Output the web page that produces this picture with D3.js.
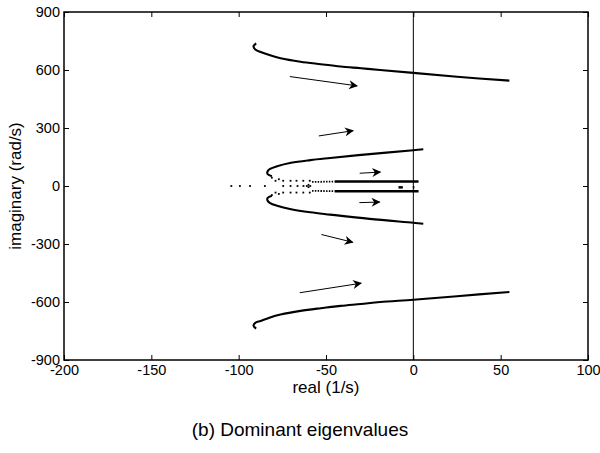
<!DOCTYPE html>
<html>
<head>
<meta charset="utf-8">
<script src="https://cdn.jsdelivr.net/npm/d3@7"></script>
<style>
body { margin: 0; background: #fff; }
text { font-family: "Liberation Sans", Arial, sans-serif; fill: #000; }
</style>
</head>
<body>
<svg width="600" height="453"></svg>
<script>
// ticks
const xTicks = [-200, -150, -100, -50, 0, 50, 100];
const yTicks = [-900, -600, -300, 0, 300, 600, 900];

// eigenvalue branches [real, imaginary]
const upperOuter = [[-90, 738], [-91.5, 722], [-90.5, 706], [-87.4, 693], [-82, 676], [-76, 661], [-64.6, 643], [-53, 630], [-41.7, 618], [-30, 609], [-19, 600], [0, 585], [25, 565], [55, 545]];
const lowerOuter = [[-90, -738], [-91.5, -722], [-90.5, -708], [-87.4, -698], [-82, -680], [-76, -665], [-64.6, -646], [-53, -632], [-41.7, -620], [-30, -610], [-19, -600], [0, -588], [25, -570], [55, -548]];
const upperInner = [[-81, 50], [-83.5, 62], [-83.5, 75], [-82, 88], [-78, 102], [-70, 120], [-59, 134], [-47.5, 145], [-25, 165], [0, 185], [5.7, 190]];
const lowerInner = [[-81, -50], [-83.5, -62], [-83.5, -75], [-82, -88], [-78, -102], [-70, -120], [-59, -136], [-47.5, -148], [-25, -170], [0, -190], [5.7, -195]];
const upperCore = [[-45, 23], [3, 23]];
const lowerCore = [[-45, -27], [3, -27]];
const upperCoreDots = [[-58, 21], [-45, 23]];
const lowerCoreDots = [[-58, -25], [-45, -27]];
const scatterDots = [
  [-104.2, 0], [-99.3, 0], [-93.5, 0], [-85, 0], [-74.5, 0], [-70.3, 0], [-66.3, 0], [-62.9, 0],
  [-78.9, 27], [-74.5, 27], [-70.3, 27], [-66.9, 27], [-63, 27], [-59.3, 27],
  [-78.9, -34], [-74.5, -34], [-70.3, -34], [-66.9, -34], [-63, -34], [-59.3, -34],
  [-81, 43], [-77, 35], [-81, -47], [-77, -41],
  [-60, 6], [-60, -6], [-59, 0], [-61, 0]
];
const smallMarks = [[-8.5, -7, -6, -7], [-0.3, -7, 0.6, -7]];

// direction arrows [x1, y1, x2, y2]
const arrows = [
  [-70.7, 566, -32.2, 518],
  [-54.1, 259, -34.5, 286],
  [-30.7, 66, -18.9, 72],
  [-30.9, -86, -19.3, -83],
  [-52.6, -251, -34.7, -291],
  [-65, -552, -29.9, -503]
];

function whenLoaded(){
  const svg = d3.select('svg');
  const width = +svg.attr('width');
  const height = +svg.attr('height');
  const margin = {top: 12, right: 12, bottom: 93, left: 64};
  const innerWidth = width - margin.left - margin.right;
  const innerHeight = height - margin.top - margin.bottom;

  const xScale = d3.scaleLinear().domain([-200, 100]).range([0, innerWidth]);
  const yScale = d3.scaleLinear().domain([-900, 900]).range([innerHeight, 0]);

  svg.append('defs').append('marker')
    .attr('id', 'head')
    .attr('viewBox', '0 0 10 10')
    .attr('refX', 9).attr('refY', 5)
    .attr('markerWidth', 10).attr('markerHeight', 9)
    .attr('markerUnits', 'userSpaceOnUse')
    .attr('orient', 'auto')
    .append('path')
    .attr('d', 'M0,0 L10,5 L0,10 L3,5 Z')
    .attr('fill', '#000');

  const g = svg.append('g')
    .attr('transform', `translate(${margin.left},${margin.top})`);

  // zero line
  g.append('line')
    .attr('x1', xScale(0)).attr('x2', xScale(0))
    .attr('y1', 0).attr('y2', innerHeight)
    .attr('stroke', '#000').attr('stroke-width', 1);

  const line = d3.line()
    .x(d => xScale(d[0]))
    .y(d => yScale(d[1]))
    .curve(d3.curveCatmullRom);

  [upperOuter, lowerOuter, upperInner, lowerInner].forEach(branch => {
    g.append('path')
      .attr('d', line(branch))
      .attr('fill', 'none')
      .attr('stroke', '#000')
      .attr('stroke-width', 2.1);
  });

  [upperCore, lowerCore].forEach(branch => {
    g.append('path')
      .attr('d', line(branch))
      .attr('fill', 'none')
      .attr('stroke', '#000')
      .attr('stroke-width', 2.4);
  });

  [upperCoreDots, lowerCoreDots].forEach(branch => {
    g.append('path')
      .attr('d', line(branch))
      .attr('fill', 'none')
      .attr('stroke', '#000')
      .attr('stroke-width', 1.8)
      .attr('stroke-dasharray', '1.5,1.3');
  });

  g.selectAll('rect.dot').data(scatterDots)
    .enter()
    .append('rect')
    .attr('class', 'dot')
    .attr('x', d => xScale(d[0]) - 0.9)
    .attr('y', d => yScale(d[1]) - 0.9)
    .attr('width', 1.8)
    .attr('height', 1.8)
    .attr('fill', '#000');

  g.selectAll('line.mark').data(smallMarks)
    .enter()
    .append('line')
    .attr('class', 'mark')
    .attr('x1', d => xScale(d[0])).attr('y1', d => yScale(d[1]))
    .attr('x2', d => xScale(d[2])).attr('y2', d => yScale(d[3]))
    .attr('stroke', '#000').attr('stroke-width', 2.5);

  g.selectAll('line.arrow').data(arrows)
    .enter()
    .append('line')
    .attr('class', 'arrow')
    .attr('x1', d => xScale(d[0])).attr('y1', d => yScale(d[1]))
    .attr('x2', d => xScale(d[2])).attr('y2', d => yScale(d[3]))
    .attr('stroke', '#000').attr('stroke-width', 1)
    .attr('marker-end', 'url(#head)');

  // axes, ticks inside on all four sides
  const fmt = d => String(d);
  const xAxis = d3.axisBottom(xScale).tickValues(xTicks).tickFormat(fmt).tickSize(-5).tickPadding(7);
  const yAxis = d3.axisLeft(yScale).tickValues(yTicks).tickFormat(fmt).tickSize(-5).tickPadding(4);

  const xAxisG = g.append('g').attr('transform', `translate(0,${innerHeight})`).call(xAxis);
  const yAxisG = g.append('g').call(yAxis);
  g.append('g').call(d3.axisTop(xScale).tickValues(xTicks).tickSize(-5).tickFormat(''));
  g.append('g').attr('transform', `translate(${innerWidth},0)`)
    .call(d3.axisRight(yScale).tickValues(yTicks).tickSize(-5).tickFormat(''));

  g.selectAll('.domain').remove();
  g.selectAll('.tick line').attr('stroke', '#000').attr('stroke-width', 1);
  xAxisG.selectAll('text').attr('font-size', 14.5).attr('dy', '0.55em');
  yAxisG.selectAll('text').attr('font-size', 14.5).attr('dy', '0.3em');

  g.append('rect')
    .attr('width', innerWidth).attr('height', innerHeight)
    .attr('fill', 'none').attr('stroke', '#000').attr('stroke-width', 1.5);

  g.append('text')
    .attr('x', innerWidth / 2).attr('y', innerHeight + 33)
    .attr('text-anchor', 'middle').attr('font-size', 17)
    .text('real (1/s)');

  g.append('text')
    .attr('transform', `translate(-43,${innerHeight / 2}) rotate(-90)`)
    .attr('text-anchor', 'middle').attr('font-size', 17)
    .text('imaginary (rad/s)');

  svg.append('text')
    .attr('x', 300).attr('y', 436)
    .attr('text-anchor', 'middle').attr('font-size', 19)
    .text('(b) Dominant eigenvalues');
}

window.onload = whenLoaded;
</script>
</body>
</html>
